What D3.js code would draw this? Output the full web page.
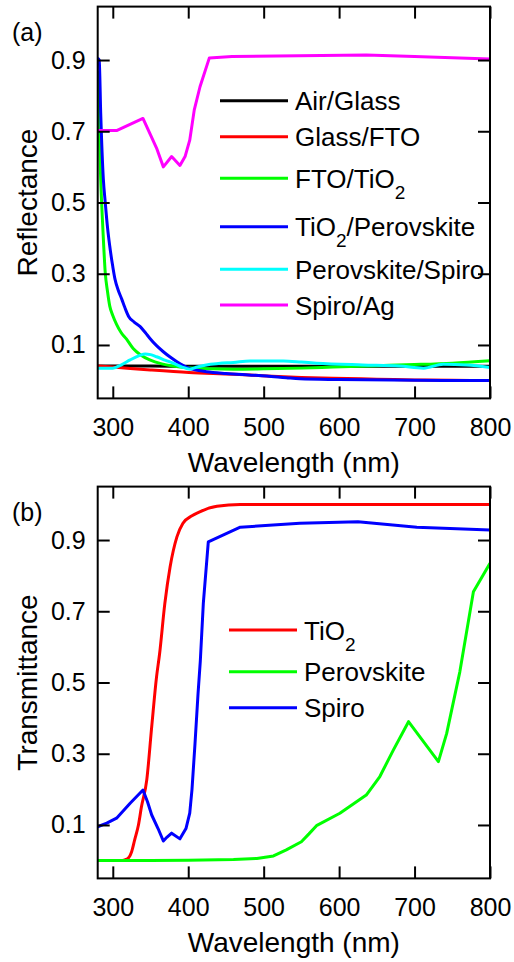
<!DOCTYPE html>
<html>
<head>
<meta charset="utf-8">
<script src="https://cdn.jsdelivr.net/npm/d3@7"></script>
<style>
  body { margin: 0; background: #fff; }
  svg { font-family: "Liberation Sans", Arial, sans-serif; }
  .axis path { display: none; }
  .axis line { stroke: #000; stroke-width: 2; }
  .axis text { fill: #000; font-size: 25px; }
</style>
</head>
<body>
<div id="chart"></div>
<script>
// ---- data ----
const xTicks = [300, 400, 500, 600, 700, 800];
const yTicks = [0.1, 0.3, 0.5, 0.7, 0.9];

// (a) reflectance, [wavelength nm, R]
const airGlass = [[280,0.041],[350,0.041],[400,0.040],[500,0.040],[600,0.040],[700,0.040],[800,0.040]];
const glassFTO = [[280,0.041],[300,0.038],[350,0.030],[401,0.023],[460,0.018],[504,0.013],[550,0.009],[592,0.0065],[650,0.004],[700,0.002],[750,0.001],[800,0.0]];
const ftoTiO2 = [[280,0.87],[282,0.70],[284,0.564],[287,0.42],[290,0.303],[293,0.25],[296,0.209],[300,0.183],[305,0.158],[311,0.135],[318,0.117],[327,0.09],[337,0.072],[349,0.058],[365,0.047],[380,0.041],[400,0.036],[430,0.033],[460,0.032],[500,0.033],[550,0.035],[592,0.038],[650,0.042],[700,0.045],[750,0.049],[800,0.056]];
const tiO2Perov = [[280,0.905],[282,0.9],[284,0.75],[287.5,0.565],[290,0.5],[293,0.43],[296,0.377],[300,0.32],[303,0.284],[307,0.255],[312,0.228],[316,0.205],[321,0.18],[328,0.165],[336,0.152],[343,0.135],[349,0.119],[358,0.098],[367,0.081],[376,0.066],[385,0.053],[393,0.043],[401,0.035],[412,0.029],[424,0.025],[450,0.02],[480,0.016],[504,0.013],[530,0.008],[548,0.005],[600,0.003],[700,0.001],[800,0.0]];
const perovSpiro = [[280,0.035],[300,0.035],[312,0.045],[323,0.058],[335,0.07],[343,0.075],[350,0.073],[358,0.067],[370,0.057],[380,0.049],[392,0.038],[402,0.032],[412,0.038],[424,0.044],[440,0.048],[460,0.051],[482,0.055],[526,0.055],[550,0.052],[570,0.049],[631,0.044],[680,0.041],[712,0.035],[738,0.046],[769,0.044],[800,0.037]];
const spiroAg = [[280,0.702],[305,0.702],[340,0.736],[350,0.69],[358,0.653],[367,0.6],[378,0.629],[389,0.604],[396,0.63],[402,0.675],[408,0.76],[415.6,0.825],[428,0.906],[458,0.91],[636,0.914],[700,0.91],[800,0.903]];

// (b) transmittance, [wavelength nm, T]
const tiO2T = [[280,0.0],[310,0.0],[316,0.002],[321,0.008],[325,0.025],[329,0.058],[334,0.1],[338,0.151],[345,0.226],[351.6,0.376],[358,0.516],[362,0.58],[369,0.722],[376,0.825],[385,0.909],[393,0.947],[405,0.968],[416,0.98],[438,0.995],[469,1.0],[800,1.0]];
const perovT = [[280,0.0],[350,0.0],[400,0.001],[460,0.003],[491,0.006],[513,0.013],[530,0.03],[550,0.053],[560,0.075],[570,0.098],[601,0.133],[636,0.184],[654,0.236],[672,0.311],[692,0.39],[731.6,0.278],[742.6,0.357],[760,0.53],[778,0.755],[800,0.835]];
const spiroT = [[280,0.095],[292,0.105],[305,0.119],[323,0.161],[340,0.198],[346,0.165],[351.6,0.128],[360,0.09],[367,0.055],[372,0.066],[378,0.077],[389,0.061],[397,0.09],[402,0.133],[405,0.2],[409,0.329],[413,0.469],[416,0.56],[420,0.722],[426.6,0.895],[469,0.936],[548,0.947],[625,0.951],[703,0.936],[800,0.928]];

const labelsA = ['Air/Glass', 'Glass/FTO', 'FTO/TiO_2', 'TiO_2/Perovskite', 'Perovskite/Spiro', 'Spiro/Ag'];
const colorsA = ['#000000', '#ff0000', '#00ff00', '#0000ff', '#00ffff', '#ff00ff'];
const labelsB = ['TiO_2', 'Perovskite', 'Spiro'];
const colorsB = ['#ff0000', '#00ff00', '#0000ff'];

// ---- drawing ----
const W = 514, H = 962;
const svg = d3.select('#chart').append('svg').attr('width', W).attr('height', H);

const x = d3.scaleLinear().domain([280, 800]).range([97.7, 490]);

// 下標處理: "TiO_2" -> TiO + subscript 2
function addLabelText(sel, str){
    const parts = str.split(/_(\d)/);
    parts.forEach((p, i) => {
        if (!p) return;
        if (i % 2 === 1) {
            sel.append('tspan').text(p).attr('dy', 11).style('font-size', '19px');
        } else {
            const t = sel.append('tspan').text(p);
            if (i > 0) t.attr('dy', -11);
        }
    });
}

function panel(cfg){
    const y = d3.scaleLinear().domain([-0.05, 1.05]).range([cfg.bottom, cfg.top]);
    const g = svg.append('g');
    const clipId = 'clip' + cfg.id;
    svg.append('clipPath').attr('id', clipId)
        .append('rect').attr('x', x.range()[0]).attr('y', cfg.top)
        .attr('width', x.range()[1] - x.range()[0]).attr('height', cfg.bottom - cfg.top);

    // smooth 的量測曲線用 monotone, 有尖角的用直線
    g.append('g').attr('clip-path', `url(#${clipId})`)
        .selectAll('path').data(cfg.series).enter()
        .append('path')
        .attr('d', (d, i) => d3.line()
            .x(p => x(p[0])).y(p => y(p[1]))
            .curve(cfg.smooth[i] ? d3.curveMonotoneX : d3.curveLinear)(d))
        .attr('fill', 'none')
        .attr('stroke', (d, i) => cfg.colors[i])
        .attr('stroke-width', 3)
        .attr('stroke-linejoin', 'round');

    // 刻度: 四邊都朝內
    g.append('g').attr('class', 'axis').attr('transform', `translate(0,${cfg.bottom})`)
        .call(d3.axisBottom(x).tickValues(xTicks).tickSize(-12).tickPadding(20));
    g.append('g').attr('class', 'axis').attr('transform', `translate(0,${cfg.top})`)
        .call(d3.axisTop(x).tickValues(xTicks).tickSize(-12).tickFormat(''));
    g.append('g').attr('class', 'axis').attr('transform', `translate(${x.range()[0]},0)`)
        .call(d3.axisLeft(y).tickValues(yTicks).tickSize(-12).tickPadding(12).tickFormat(d3.format('.1f')));
    g.append('g').attr('class', 'axis').attr('transform', `translate(${x.range()[1]},0)`)
        .call(d3.axisRight(y).tickValues(yTicks).tickSize(-12).tickFormat(''));

    g.append('rect')
        .attr('x', x.range()[0]).attr('y', cfg.top)
        .attr('width', x.range()[1] - x.range()[0]).attr('height', cfg.bottom - cfg.top)
        .attr('fill', 'none').attr('stroke', '#000').attr('stroke-width', 2);

    g.append('text').attr('x', 12).attr('y', cfg.top + 34)
        .style('font-size', '25px').text(cfg.tag);

    g.append('text')
        .attr('transform', `translate(37,${(cfg.top + cfg.bottom) / 2}) rotate(-90)`)
        .attr('text-anchor', 'middle').style('font-size', '28px').text(cfg.ytitle);

    g.append('text')
        .attr('x', (x.range()[0] + x.range()[1]) / 2).attr('y', cfg.bottom + 73.5)
        .attr('text-anchor', 'middle').style('font-size', '28px').text('Wavelength (nm)');

    // legend
    const lg = g.append('g');
    cfg.labels.forEach((lab, i) => {
        const ly = cfg.legY[i];
        lg.append('line')
            .attr('x1', cfg.legX).attr('x2', cfg.legX + 68)
            .attr('y1', ly).attr('y2', ly)
            .attr('stroke', cfg.colors[i]).attr('stroke-width', 3);
        const t = lg.append('text')
            .attr('x', cfg.legX + 75).attr('y', ly + 9.5)
            .style('font-size', '26px');
        addLabelText(t, lab);
    });
}

panel({
    id: 'a', top: 6.6, bottom: 398.4, tag: '(a)', ytitle: 'Reflectance',
    series: [airGlass, glassFTO, ftoTiO2, tiO2Perov, perovSpiro, spiroAg],
    smooth: [true, true, true, true, true, false],
    colors: colorsA, labels: labelsA,
    legX: 220, legY: [100.7, 136.7, 178.3, 226.7, 269.3, 305]
});

panel({
    id: 'b', top: 486.6, bottom: 878.4, tag: '(b)', ytitle: 'Transmittance',
    series: [tiO2T, perovT, spiroT],
    smooth: [true, false, false],
    colors: colorsB, labels: labelsB,
    legX: 229, legY: [630, 671.7, 707.7]
});
</script>
</body>
</html>
